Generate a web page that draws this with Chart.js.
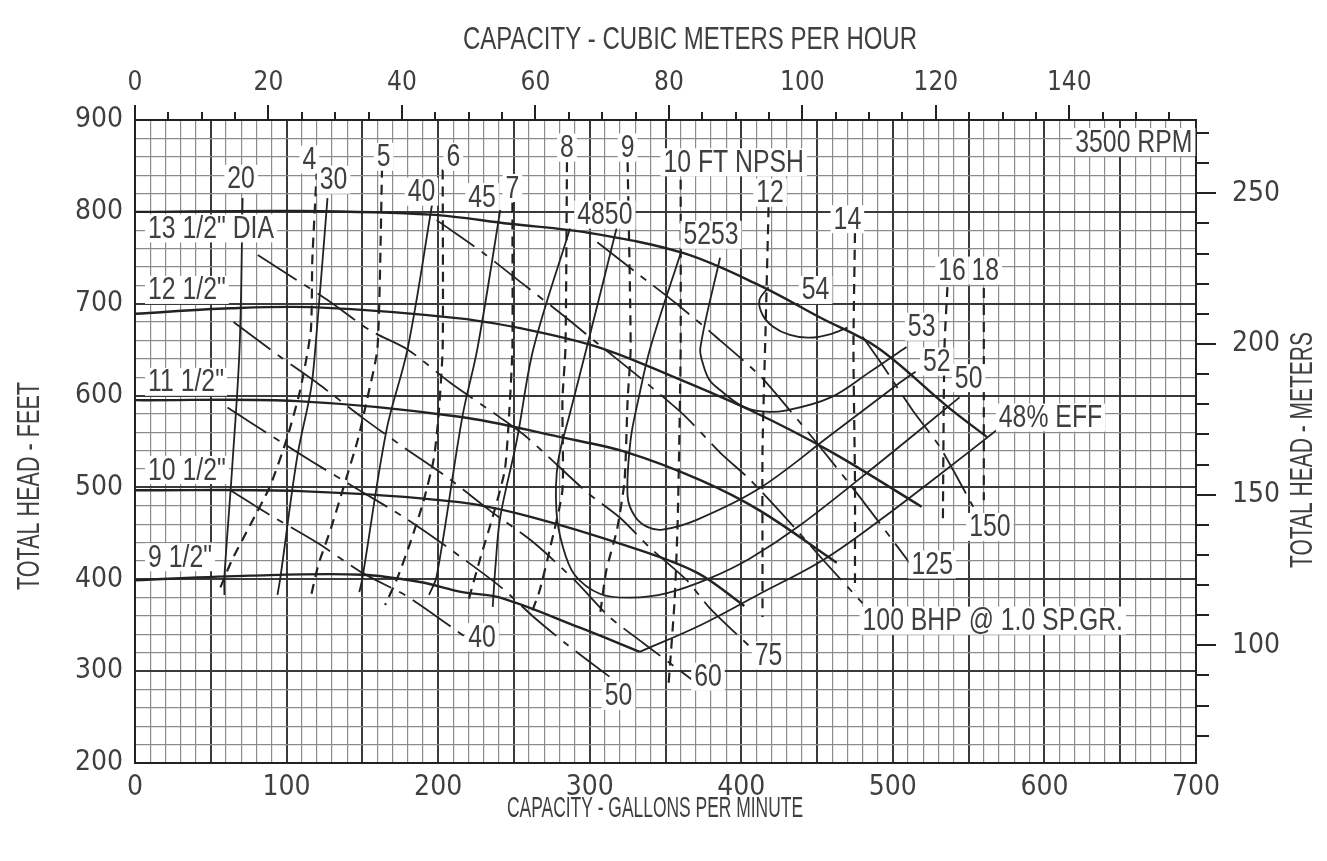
<!DOCTYPE html>
<html>
<head>
<meta charset="utf-8">
<script src="https://cdn.jsdelivr.net/npm/chart.js@4.4.1/dist/chart.umd.min.js"></script>
<style>
    html, body { margin: 0; padding: 0; background: #fff; }
    canvas { display: block; }
</style>
</head>
<body>
<canvas id="pumpChart" width="1327" height="861"></canvas>
<script>
// all curves are [capacity gpm, total head ft]

// impeller diameters
var dia13h = [[0, 800], [109, 801], [195, 797], [247, 787], [300, 777], [362, 755], [412, 720], [452, 685], [490, 652], [536, 588], [562, 555]];
var dia12h = [[0, 689], [63, 695], [120, 696], [214, 684], [261, 671], [307, 652], [353, 622], [406, 584], [459, 539], [519, 479]];
var dia11h = [[0, 595], [107, 594], [214, 577], [280, 555], [325, 538], [373, 508], [412, 475], [463, 418]];
var dia10h = [[0, 497], [109, 496], [214, 484], [261, 468], [327, 435], [371, 407], [402, 371]];
var dia9h = [[0, 399], [76, 404], [150, 405], [188, 397], [216, 386], [241, 380], [294, 347], [333, 321]];

// efficiency (%)
var eff20 = [[71, 815], [69, 652], [64, 519], [59, 403], [59, 383]];
var eff30 = [[127, 815], [119, 652], [116, 606], [107, 533], [96, 403], [94, 383]];
var eff40 = [[196, 808], [180, 652], [166, 563], [150, 401], [148, 386]];
var eff45 = [[241, 802], [226, 652], [216, 577], [199, 403], [194, 383]];
var eff48a = [[287, 782], [263, 652], [252, 552], [241, 468], [238, 418], [236, 370]];
var eff48b = [[333, 321], [373, 350], [412, 384], [454, 421], [492, 465], [531, 514], [569, 563]];
var eff50 = [[318, 784], [298, 652], [287, 581], [279, 527], [278, 475], [282, 437], [290, 405], [307, 384], [327, 380], [351, 385], [379, 401], [406, 423], [439, 459], [492, 528], [544, 598]];
var eff52 = [[360, 755], [340, 652], [332, 595], [327, 552], [325, 490], [330, 468], [338, 457], [348, 454], [371, 465], [412, 499], [459, 557], [503, 612], [515, 626]];
var eff53 = [[386, 750], [373, 652], [375, 633], [379, 617], [386, 606], [399, 590], [412, 583], [430, 584], [459, 598], [485, 626], [509, 653]];
var eff54 = [[418, 718], [412, 704], [414, 688], [421, 675], [432, 666], [445, 663], [459, 667], [470, 674]];

// brake horsepower
var bhp40 = [[63, 497], [89, 470], [120, 440], [150, 407], [180, 381], [219, 336]];
var bhp50 = [[61, 587], [91, 555], [117, 528], [148, 497], [177, 468], [206, 435], [241, 392], [263, 359], [285, 329], [313, 294]];
var bhp60 = [[65, 680], [96, 642], [120, 614], [150, 576], [177, 544], [206, 511], [234, 475], [263, 440], [290, 399], [313, 359], [335, 331], [368, 290]];
var bhp75 = [[81, 753], [127, 704], [155, 671], [180, 650], [208, 614], [241, 576], [259, 554], [298, 495], [320, 467], [340, 434], [364, 399], [379, 369], [408, 323]];
var bhp100 = [[199, 791], [230, 755], [254, 724], [282, 688], [305, 657], [335, 617], [362, 579], [386, 538], [406, 508], [432, 462], [454, 421], [480, 374]];
var bhp125 = [[305, 767], [333, 731], [358, 699], [384, 663], [412, 622], [432, 584], [452, 544], [478, 490], [511, 418]];
var bhp150 = [[480, 664], [492, 636], [513, 584], [531, 544], [553, 479]];

// NPSH required (ft)
var npsh4 = [[120, 846], [117, 748], [116, 671], [109, 606], [100, 552], [89, 501], [76, 459], [64, 421], [55, 386]];
var npsh5 = [[163, 848], [160, 652], [153, 595], [147, 552], [137, 497], [129, 454], [121, 416], [116, 381]];
var npsh6 = [[203, 846], [203, 652], [200, 573], [197, 530], [190, 483], [181, 437], [173, 401], [165, 372]];
var npsh7 = [[249, 810], [249, 652], [247, 584], [244, 519], [236, 468], [228, 424], [220, 377]];
var npsh8 = [[285, 854], [284, 652], [282, 595], [282, 497], [274, 435], [267, 388], [261, 361]];
var npsh9 = [[325, 854], [327, 652], [325, 595], [323, 508], [318, 454], [311, 410], [307, 364]];
var npsh10 = [[360, 835], [360, 652], [359, 541], [358, 461], [356, 377], [352, 285]];
var npsh12 = [[418, 805], [416, 671], [414, 541], [414, 421], [414, 359]];
var npsh14 = [[475, 777], [474, 650], [475, 508], [475, 388]];
var npsh16 = [[536, 718], [534, 650], [533, 461]];
var npsh18 = [[560, 717], [560, 486]];

// axis ranges / ticks
var gpmMax = 700;
var ftMin = 200, ftMax = 900;
var gpmPerM3h = 4.4029;
var ftPerMeter = 3.28084;
var m3hLabels = [0, 20, 40, 60, 80, 100, 120, 140];
var meterLabels = [100, 150, 200, 250];

// text on the chart: [text, gpm, ft, align]
var notes = [
    ['13 1/2" DIA', 8.6, 782, "left"],
    ['12 1/2"', 8.6, 715, "left"],
    ['11 1/2"', 8.6, 615, "left"],
    ['10 1/2"', 8.6, 519, "left"],
    ['9 1/2"', 8.6, 424, "left"],
    ["20", 70, 836], ["4", 115, 857], ["30", 131, 835], ["5", 164, 860], ["6", 210, 860],
    ["40", 189, 822], ["45", 229, 816], ["7", 249, 826], ["8", 285, 870], ["9", 325, 870],
    ["4850", 310, 797], ["5253", 380, 775],
    ["10 FT NPSH", 395, 854], ["12", 419, 821], ["14", 470, 792], ["54", 449, 715],
    ["16", 539, 736], ["18", 561, 736], ["3500 RPM", 659, 876],
    ["53", 519, 675], ["52", 529, 637], ["50", 550, 619], ["48% EFF", 604, 576],
    ["150", 564, 457], ["125", 526, 416], ["100 BHP @ 1.0 SP.GR.", 480, 355, "left"],
    ["75", 418, 317], ["60", 378, 294], ["50", 319, 273], ["40", 229, 337]
];

var FONT = "'Liberation Sans', Arial, sans-serif";
var TICK_FONT = "'DejaVu Sans Condensed', 'Liberation Sans', sans-serif";
var INK = "#222";
var TEXT = "#3f3f3f";

var styles = {
    head: { borderWidth: 2.4, tension: 0.35, borderDash: [] },
    eff: { borderWidth: 1.8, tension: 0.35, borderDash: [] },
    bhp: { borderWidth: 1.8, tension: 0.25, borderDash: [46, 9, 7, 9] },
    npsh: { borderWidth: 2.2, tension: 0.2, borderDash: [10, 7] },
};

var curves = [
    [dia13h, "head"], [dia12h, "head"], [dia11h, "head"], [dia10h, "head"], [dia9h, "head"],
    [eff20, "eff"], [eff30, "eff"], [eff40, "eff"], [eff45, "eff"], [eff48a, "eff"], [eff48b, "eff"],
    [eff50, "eff"], [eff52, "eff"], [eff53, "eff"], [eff54, "eff"],
    [bhp40, "bhp"], [bhp50, "bhp"], [bhp60, "bhp"], [bhp75, "bhp"], [bhp100, "bhp"], [bhp125, "bhp"], [bhp150, "bhp"],
    [npsh4, "npsh"], [npsh5, "npsh"], [npsh6, "npsh"], [npsh7, "npsh"], [npsh8, "npsh"], [npsh9, "npsh"],
    [npsh10, "npsh"], [npsh12, "npsh"], [npsh14, "npsh"], [npsh16, "npsh"], [npsh18, "npsh"],
];

var datasets = curves.map(function (c) {
    var s = styles[c[1]];
    return {
        data: c[0].map(function (p) { return { x: p[0], y: p[1] }; }),
        showLine: true,
        fill: false,
        borderColor: INK,
        borderWidth: s.borderWidth,
        borderDash: s.borderDash,
        tension: s.tension,
        pointRadius: 0,
        pointHoverRadius: 0,
    };
});

// narrow "drafting" lettering: a normal font squeezed sideways
function narrowText(ctx, text, x, y, size, sx, align, angle) {
    ctx.save();
    ctx.font = size + "px " + FONT;
    ctx.textBaseline = "middle";
    ctx.textAlign = align || "center";
    ctx.translate(x, y);
    if (angle) ctx.rotate(angle);
    ctx.scale(sx, 1);
    ctx.fillText(text, 0, 0);
    ctx.restore();
}
function fitText(ctx, text, x, y, size, width, angle) {
    ctx.save();
    ctx.font = size + "px " + FONT;
    var sx = width / ctx.measureText(text).width;
    ctx.restore();
    narrowText(ctx, text, x, y, size, sx, "center", angle);
}

var NOTE_SIZE = 31, NOTE_SX = 0.8;

// short ticks outside the top and right axes, labels, titles
var decorations = {
    id: "decorations",
    afterDatasetsDraw: function (chart) {
        var ctx = chart.ctx;
        var xs = chart.scales.x, ys = chart.scales.y;
        ctx.save();
        ctx.font = NOTE_SIZE + "px " + FONT;
        notes.forEach(function (n) {
            var px = xs.getPixelForValue(n[1]);
            var py = ys.getPixelForValue(n[2]);
            var w = ctx.measureText(n[0]).width * NOTE_SX;
            var x0 = n[3] === "left" ? px : px - w / 2;
            ctx.fillStyle = "#fff";
            ctx.fillRect(x0 - 3, py - 14, w + 6, 28);
            ctx.fillStyle = TEXT;
            narrowText(ctx, n[0], x0, py + 1, NOTE_SIZE, NOTE_SX, "left");
        });
        ctx.restore();
    },
    afterDraw: function (chart) {
        var ctx = chart.ctx, area = chart.chartArea;
        var top = chart.scales.xTop, right = chart.scales.yRight;
        ctx.save();
        ctx.strokeStyle = INK;
        ctx.lineWidth = 2;
        ctx.beginPath();
        for (var v = 0; v <= 155; v += 5) {
            var px = Math.round(top.getPixelForValue(v));
            ctx.moveTo(px, area.top);
            ctx.lineTo(px, area.top - (v % 20 === 0 ? 15 : 8));
        }
        for (var m = 70; m <= 270; m += 10) {
            var py = Math.round(right.getPixelForValue(m));
            ctx.moveTo(area.right, py);
            ctx.lineTo(area.right + (m % 50 === 0 ? 20 : 13), py);
        }
        ctx.stroke();

        // axis titles
        ctx.fillStyle = TEXT;
        fitText(ctx, "CAPACITY - CUBIC METERS PER HOUR", 690, 40, 32, 454);
        fitText(ctx, "CAPACITY - GALLONS PER MINUTE", 655, 809, 30, 296);
        fitText(ctx, "TOTAL HEAD - FEET", 30, 486, 31, 208, -Math.PI / 2);
        fitText(ctx, "TOTAL HEAD - METERS", 1303, 450, 31, 236, -Math.PI / 2);
        ctx.restore();
    },
};

function gridColor(step) {
    return function (c) {
        return c.tick && Math.round(c.tick.value) % step === 0 ? "#3a3a3a" : "#8c8c8c";
    };
}
function gridWidth(step) {
    return function (c) {
        return c.tick && Math.round(c.tick.value) % step === 0 ? 2 : 1.2;
    };
}

var tickFont = { family: TICK_FONT, size: 28 };

new Chart(document.getElementById("pumpChart").getContext("2d"), {
    type: "scatter",
    data: { datasets: datasets },
    options: {
        responsive: false,
        animation: false,
        devicePixelRatio: 1,
        layout: { padding: 0 },
        plugins: { legend: { display: false }, tooltip: { enabled: false } },
        scales: {
            x: {
                type: "linear",
                position: "bottom",
                min: 0,
                max: gpmMax,
                afterFit: function (s) { s.height = 98; },
                ticks: {
                    stepSize: 10,
                    autoSkip: false,
                    maxRotation: 0,
                    padding: 8,
                    color: TEXT,
                    font: tickFont,
                    callback: function (v) { return v % 100 === 0 ? v : ""; },
                },
                grid: { color: gridColor(50), lineWidth: gridWidth(50), drawTicks: false },
                border: { color: INK, width: 2 },
            },
            xTop: {
                type: "linear",
                position: "top",
                min: 0,
                max: gpmMax / gpmPerM3h,
                afterFit: function (s) { s.height = 120; },
                afterBuildTicks: function (s) {
                    s.ticks = m3hLabels.map(function (v) { return { value: v }; });
                },
                ticks: { padding: 21, color: TEXT, font: { family: TICK_FONT, size: 26 }, maxRotation: 0 },
                grid: { drawOnChartArea: false, drawTicks: false },
                border: { color: INK, width: 2 },
            },
            y: {
                type: "linear",
                position: "left",
                min: ftMin,
                max: ftMax,
                afterFit: function (s) { s.width = 135; },
                ticks: {
                    stepSize: 20,
                    autoSkip: false,
                    padding: 12,
                    color: TEXT,
                    font: tickFont,
                    callback: function (v) { return v % 100 === 0 ? v : ""; },
                },
                grid: { color: gridColor(100), lineWidth: gridWidth(100), drawTicks: false },
                border: { color: INK, width: 2 },
            },
            yRight: {
                type: "linear",
                position: "right",
                min: ftMin / ftPerMeter,
                max: ftMax / ftPerMeter,
                afterFit: function (s) { s.width = 131; },
                afterBuildTicks: function (s) {
                    s.ticks = meterLabels.map(function (v) { return { value: v }; });
                },
                ticks: { padding: 36, color: TEXT, font: tickFont },
                grid: { drawOnChartArea: false, drawTicks: false },
                border: { color: INK, width: 2 },
            },
        },
    },
    plugins: [decorations],
});
</script>
</body>
</html>
